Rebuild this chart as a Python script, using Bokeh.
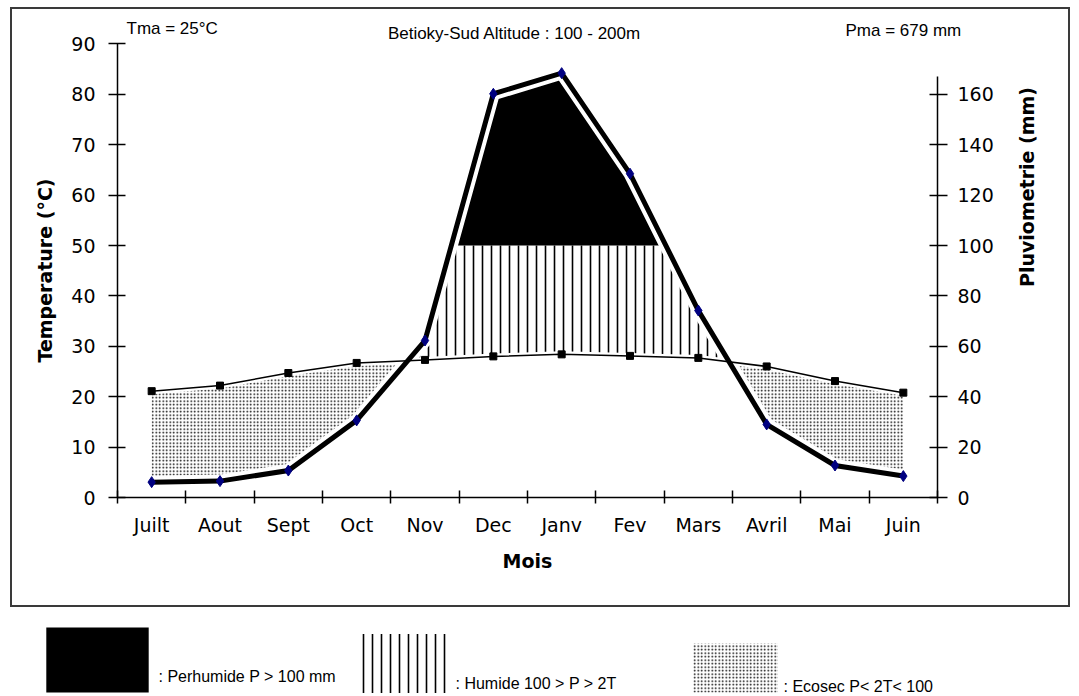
import math
import numpy as np
from bokeh.plotting import figure
from bokeh.models import Range1d, LinearAxis, FixedTicker, Legend, LegendItem
from bokeh.core.properties import value
from bokeh.embed import file_html
from bokeh.resources import INLINE

# ---------------- data ----------------
months = ["Juilt", "Aout", "Sept", "Oct", "Nov", "Dec", "Janv", "Fev", "Mars", "Avril", "Mai", "Juin"]
temp_c = [21.1, 22.2, 24.7, 26.7, 27.3, 28.0, 28.4, 28.1, 27.7, 26.0, 23.1, 20.8]
precip_mm = [6.1, 6.5, 10.7, 30.6, 62.3, 160.2, 168.4, 128.5, 74.2, 29.0, 12.7, 8.5]
temp_ticks = list(range(0, 91, 10))
precip_ticks = list(range(0, 161, 20))
perhumide_mm = 100
title_station = "Betioky-Sud Altitude : 100 - 200m"
title_tma = "Tma = 25°C"
title_pma = "Pma = 679 mm"
legend_texts = [": Perhumide P > 100 mm", ": Humide 100 > P > 2T", ": Ecosec P< 2T< 100"]

# ---------------- layout geometry (pixels) ----------------
W, H = 1079, 694
AX_LEFT_PX, AX_RIGHT_PX, AX_BOTTOM_PX = 117, 937, 497
PX_PER_DEG = 5.04
n = len(months)
PX_PER_MONTH = (AX_RIGHT_PX - AX_LEFT_PX) / n

def dx(px):   # pixel column -> month-axis data
    return (px - AX_LEFT_PX) / PX_PER_MONTH

def dy(py):   # pixel row -> temperature-axis data
    return (AX_BOTTOM_PX - py) / PX_PER_DEG

# ---------------- derived ----------------
xc = np.arange(n) + 0.5
T = np.array(temp_c)
P2 = np.array(precip_mm) / 2.0          # P drawn on the T scale (P = 2T)
thr = perhumide_mm / 2.0

xs = np.union1d(np.linspace(xc[0], xc[-1], 3001), xc)
Ti = np.interp(xs, xc, T)
Pi = np.interp(xs, xc, P2)

TICK_FONT = "DejaVu Sans"
TXT_FONT = "Liberation Sans"
INK = "#3a3a3a"

ymin, ymax = dy(H), dy(0)
p = figure(width=W, height=H, output_backend="svg", toolbar_location=None, title=None,
           x_range=Range1d(dx(0), dx(W)), y_range=Range1d(ymin, ymax),
           x_axis_location=None, y_axis_location=None,
           min_border=0, min_border_left=0, min_border_right=0,
           min_border_top=0, min_border_bottom=0)
p.extra_y_ranges = {"P": Range1d(2 * ymin, 2 * ymax)}
p.grid.visible = False
p.outline_line_color = None
p.background_fill_color = None
p.border_fill_color = None
# thin outer frame around the chart block (not around the legend)
p.styles = {
    "background-image": ", ".join([f"linear-gradient({INK},{INK})"] * 4),
    "background-size": "1060px 2px, 1060px 2px, 2px 600px, 2px 600px",
    "background-position": "10px 7px, 10px 605px, 10px 7px, 1068px 7px",
    "background-repeat": "no-repeat",
}

# fills
r_dots = p.varea(x=xs, y1=np.minimum(Pi, Ti), y2=Ti, fill_color=None,
                 hatch_pattern=".", hatch_color="black", hatch_scale=3.5, hatch_weight=1.4)
r_hatch = p.varea(x=xs, y1=Ti, y2=np.minimum(np.maximum(Pi, Ti), thr), fill_color=None,
                  hatch_pattern="|", hatch_color="black", hatch_scale=9, hatch_weight=1.6)
r_black = p.varea(x=xs, y1=thr, y2=np.maximum(Pi, thr), fill_color="black")

# halos
p.line(xc, T, line_color="white", line_width=6)
p.line(xc, precip_mm, y_range_name="P", line_color="white", line_width=13, line_join="miter")
# lines and markers
p.line(xc, T, line_color="black", line_width=1.5)
p.line(xc, precip_mm, y_range_name="P", line_color="black", line_width=5, line_join="miter")
p.scatter(xc, T, marker="square", size=7, color="black")
p.scatter(xc, precip_mm, y_range_name="P", marker="diamond", size=11, color="#000080")

def style_axis(ax):
    ax.major_label_text_font = TICK_FONT
    ax.major_label_text_font_size = "19px"
    ax.major_label_text_color = "black"
    ax.axis_label_text_font = "DejaVu Sans"
    ax.axis_label_text_font_style = "bold"
    ax.axis_label_text_font_size = "19px"
    ax.axis_label_text_color = "black"
    ax.axis_line_width = 1.5
    ax.major_tick_line_width = 1.5
    ax.minor_tick_line_width = 1.5

# x axis: month labels at centres, tick marks between months
xa = LinearAxis(ticker=FixedTicker(ticks=list(xc), minor_ticks=list(range(n + 1))),
                fixed_location=0, bounds=(0, n))
style_axis(xa)
xa.major_label_overrides = {float(v): m for v, m in zip(xc, months)}
xa.major_tick_in = 0
xa.major_tick_out = 0
xa.minor_tick_in = 7
xa.minor_tick_out = 6
xa.major_label_standoff = 10
xa.axis_label = "Mois"
xa.axis_label_standoff = 11
p.add_layout(xa, "below")

ya = LinearAxis(ticker=FixedTicker(ticks=temp_ticks, minor_ticks=[]),
                fixed_location=0, bounds=(0, 90))
style_axis(ya)
ya.major_tick_in = 8
ya.major_tick_out = 9
ya.major_label_standoff = 13
ya.axis_label = "Temperature (°C)"
ya.axis_label_standoff = 12
p.add_layout(ya, "left")

ra = LinearAxis(y_range_name="P", ticker=FixedTicker(ticks=precip_ticks, minor_ticks=[]),
                fixed_location=n, bounds=(0, 167))
style_axis(ra)
ra.major_tick_in = 8
ra.major_tick_out = 10
ra.major_label_standoff = 10
ra.axis_label = "Pluviometrie (mm)"
ra.axis_label_standoff = 30
ra.axis_label_orientation = math.pi / 2
p.add_layout(ra, "right")

# header texts
for txt, px, py, al in [(title_tma, 126, 28, "left"),
                        (title_station, 514, 33, "center"),
                        (title_pma, 845, 30, "left")]:
    p.text(x=[dx(px)], y=[dy(py)], text=[txt], text_font=value(TXT_FONT),
           text_font_size="17px", text_align=al, text_baseline="middle", text_color="black")

# legend strip under the chart block: one swatch per zone (legend draws its key
# inset by 10% on each side, hence the 0.8 factor), caption text next to it
INSET = 0.8
for lab, rnd, (L, R, Tp, B), (tx, ty) in [
        (legend_texts[0], r_black, (46, 148, 627, 692), (158, 676)),
        (legend_texts[1], r_hatch, (360, 449, 633, 692), (455, 683)),
        (legend_texts[2], r_dots, (692, 777, 643, 692), (783, 686))]:
    gw, gh = int(round((R - L) / INSET)), int(round((B - Tp) / INSET))
    loc = (int(round(L - (gw - (R - L)) / 2)), int(round(H - (B + (gh - (B - Tp)) / 2))))
    lg = Legend(items=[LegendItem(label=" ", renderers=[rnd])],
                location=loc,
                glyph_width=gw, glyph_height=gh, label_standoff=0, label_width=1,
                padding=0, margin=0, spacing=0,
                label_text_font=TXT_FONT, label_text_font_size="16px",
                background_fill_alpha=0, border_line_color=None)
    p.add_layout(lg, "center")
    p.text(x=[dx(tx)], y=[dy(ty)], text=[lab], text_font=value(TXT_FONT),
           text_font_size="16px", text_align="left", text_baseline="middle", text_color="black")

open("out.html", "w").write(file_html(p, INLINE))
